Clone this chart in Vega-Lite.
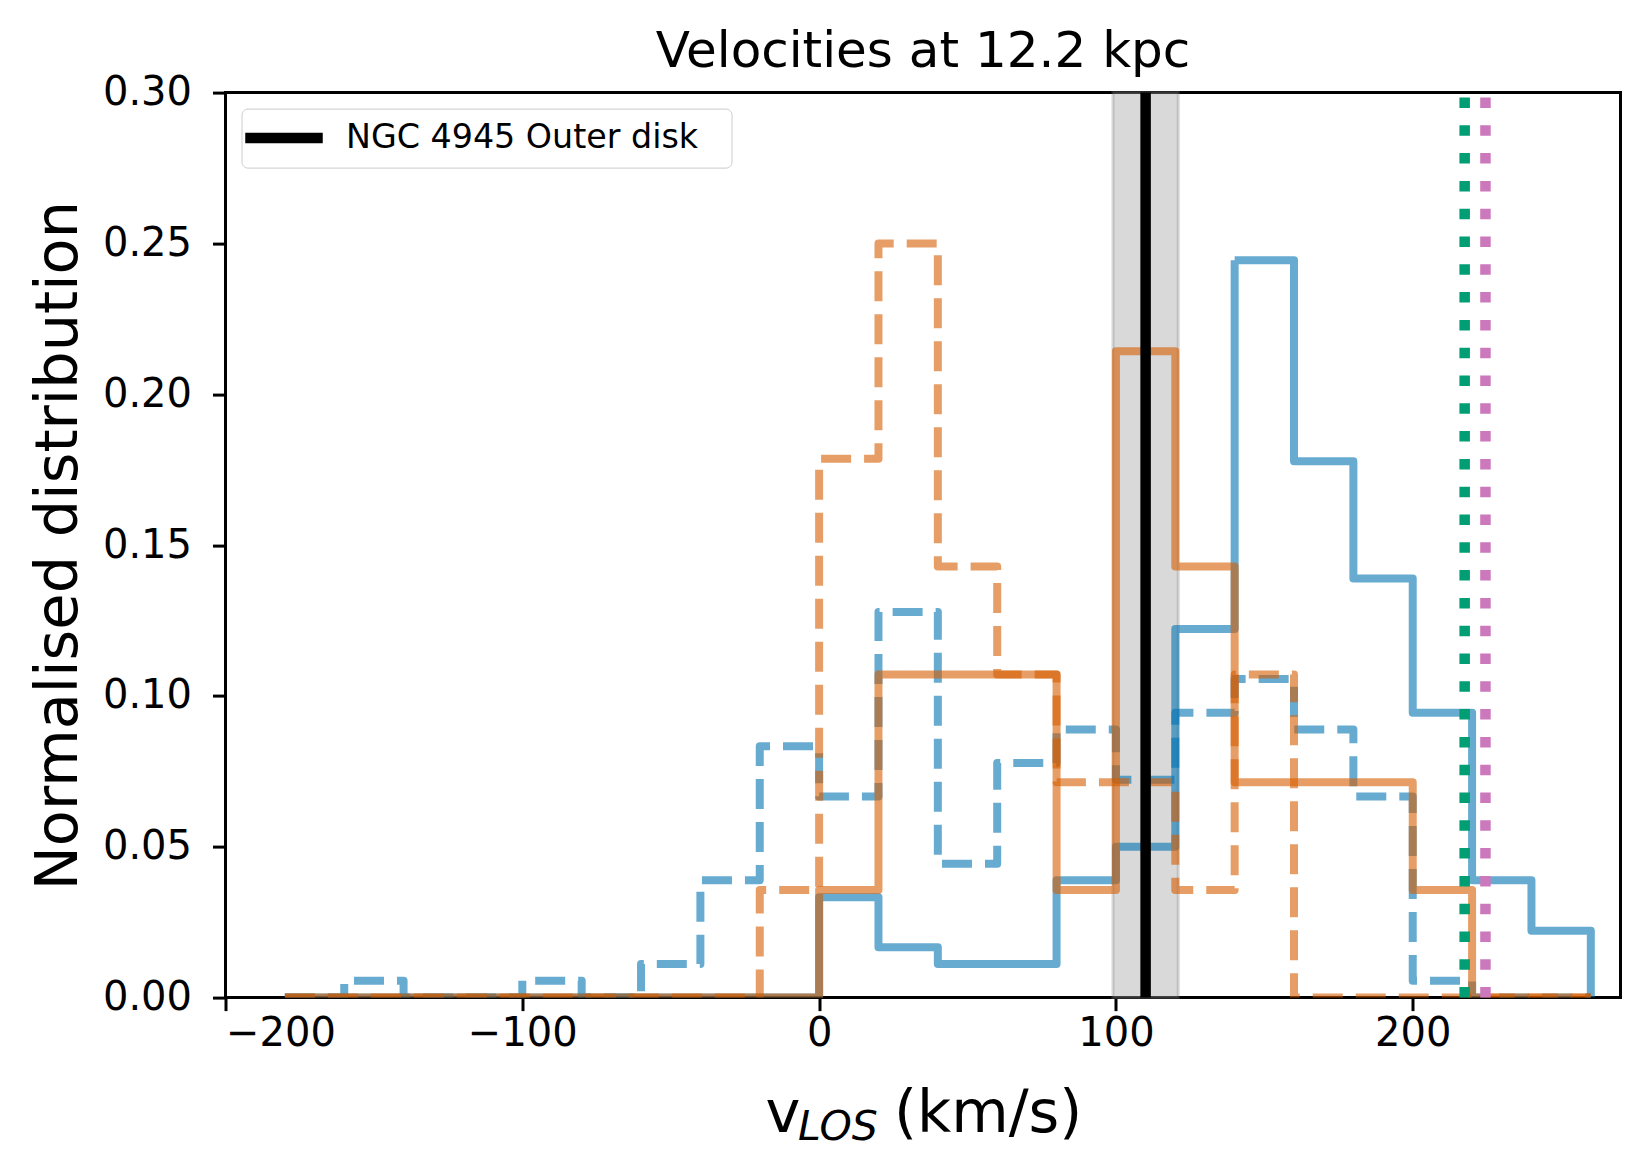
{
  "$schema": "https://vega.github.io/schema/vega-lite/v6.json",
  "width": 1395,
  "height": 905,
  "autosize": {"type": "none"},
  "padding": {"left": 225.5, "top": 92.6, "right": 29.5, "bottom": 175.4},
  "background": "white",
  "title": {"text": "Velocities at 12.2 kpc", "fontSize": 50, "font": "DejaVu Sans", "fontWeight": "normal", "color": "black", "anchor": "middle", "frame": "group", "baseline": "alphabetic", "offset": -44},
  "config": {
    "font": "DejaVu Sans",
    "view": {"stroke": "black", "strokeWidth": 3},
    "axis": {"grid": false, "domain": false, "labelFont": "DejaVu Sans", "labelFontSize": 40, "labelColor": "black", "tickColor": "black", "tickWidth": 3, "tickSize": 13, "titleFont": "DejaVu Sans", "titleFontSize": 59, "titleFontWeight": "normal", "titleColor": "black"},
    "axisX": {"labelPadding": 3},
    "axisY": {"labelPadding": 21}
  },
  "datasets": {
    "hist": [
      {"series":"A","v":-180,"p":0},{"series":"A","v":-160,"p":0},{"series":"A","v":-140,"p":0},{"series":"A","v":-120,"p":0},{"series":"A","v":-100,"p":0},{"series":"A","v":-80,"p":0},{"series":"A","v":-60,"p":0},{"series":"A","v":-40,"p":0},{"series":"A","v":-20,"p":0},{"series":"A","v":0,"p":0.0333},{"series":"A","v":20,"p":0.0167},{"series":"A","v":40,"p":0.0111},{"series":"A","v":60,"p":0.0111},{"series":"A","v":80,"p":0.0389},{"series":"A","v":100,"p":0.05},{"series":"A","v":120,"p":0.1222},{"series":"A","v":140,"p":0.2444},{"series":"A","v":160,"p":0.1778},{"series":"A","v":180,"p":0.1389},{"series":"A","v":200,"p":0.0944},{"series":"A","v":220,"p":0.0389},{"series":"A","v":240,"p":0.0222},{"series":"A","v":260,"p":0},
      {"series":"B","v":-180,"p":0},{"series":"B","v":-160,"p":0.0056},{"series":"B","v":-140,"p":0},{"series":"B","v":-120,"p":0},{"series":"B","v":-100,"p":0.0056},{"series":"B","v":-80,"p":0},{"series":"B","v":-60,"p":0.0111},{"series":"B","v":-40,"p":0.0389},{"series":"B","v":-20,"p":0.0833},{"series":"B","v":0,"p":0.0667},{"series":"B","v":20,"p":0.1278},{"series":"B","v":40,"p":0.0444},{"series":"B","v":60,"p":0.0778},{"series":"B","v":80,"p":0.0889},{"series":"B","v":100,"p":0.0722},{"series":"B","v":120,"p":0.0944},{"series":"B","v":140,"p":0.1056},{"series":"B","v":160,"p":0.0889},{"series":"B","v":180,"p":0.0667},{"series":"B","v":200,"p":0.0056},{"series":"B","v":220,"p":0},{"series":"B","v":240,"p":0},{"series":"B","v":260,"p":0},
      {"series":"C","v":-180,"p":0},{"series":"C","v":-160,"p":0},{"series":"C","v":-140,"p":0},{"series":"C","v":-120,"p":0},{"series":"C","v":-100,"p":0},{"series":"C","v":-80,"p":0},{"series":"C","v":-60,"p":0},{"series":"C","v":-40,"p":0},{"series":"C","v":-20,"p":0},{"series":"C","v":0,"p":0.0357},{"series":"C","v":20,"p":0.1071},{"series":"C","v":40,"p":0.1071},{"series":"C","v":60,"p":0.1071},{"series":"C","v":80,"p":0.0357},{"series":"C","v":100,"p":0.2143},{"series":"C","v":120,"p":0.1429},{"series":"C","v":140,"p":0.0714},{"series":"C","v":160,"p":0.0714},{"series":"C","v":180,"p":0.0714},{"series":"C","v":200,"p":0.0357},{"series":"C","v":220,"p":0},{"series":"C","v":240,"p":0},{"series":"C","v":260,"p":0},
      {"series":"D","v":-180,"p":0},{"series":"D","v":-160,"p":0},{"series":"D","v":-140,"p":0},{"series":"D","v":-120,"p":0},{"series":"D","v":-100,"p":0},{"series":"D","v":-80,"p":0},{"series":"D","v":-60,"p":0},{"series":"D","v":-40,"p":0},{"series":"D","v":-20,"p":0.0357},{"series":"D","v":0,"p":0.1786},{"series":"D","v":20,"p":0.25},{"series":"D","v":40,"p":0.1429},{"series":"D","v":60,"p":0.1071},{"series":"D","v":80,"p":0.0714},{"series":"D","v":100,"p":0.0714},{"series":"D","v":120,"p":0.0357},{"series":"D","v":140,"p":0.1071},{"series":"D","v":160,"p":0},{"series":"D","v":180,"p":0},{"series":"D","v":200,"p":0},{"series":"D","v":220,"p":0},{"series":"D","v":240,"p":0},{"series":"D","v":260,"p":0}
    ],
    "band": [{"lo": 99, "hi": 121}],
    "disk": [{"v": 110, "label": "NGC 4945 Outer disk"}],
    "green": [{"v": 217.5}],
    "pink": [{"v": 224.5}]
  },
  "layer": [
    {
      "data": {"name": "band"},
      "mark": {"type": "rect", "fill": "#808080", "fillOpacity": 0.3, "stroke": "#808080", "strokeOpacity": 0.3, "strokeWidth": 3},
      "encoding": {
        "x": {"field": "lo", "type": "quantitative", "scale": {"domain": [-200, 270], "nice": false, "zero": false},
              "axis": {"orient": "bottom", "values": [-200, -100, 0, 100, 200], "title": "v", "titleX": 539.5, "titleY": 134, "titleAlign": "left", "titleBaseline": "alphabetic"}},
        "x2": {"field": "hi"}
      }
    },
    {
      "data": {"name": "hist"},
      "mark": {"type": "line", "interpolate": "step-after", "strokeWidth": 8, "strokeOpacity": 0.6, "strokeJoin": "round", "clip": true},
      "encoding": {
        "x": {"field": "v", "type": "quantitative",
              "axis": {"orient": "bottom", "title": "LOS", "labels": false, "ticks": false, "domain": false, "titleFontStyle": "italic", "titleFontSize": 41, "titleX": 572, "titleY": 142, "titleAlign": "left", "titleBaseline": "alphabetic"}},
        "y": {"field": "p", "type": "quantitative", "scale": {"domain": [0, 0.3], "nice": false},
              "axis": {"title": "Normalised distribution", "values": [0, 0.05, 0.1, 0.15, 0.2, 0.25, 0.3], "format": ".2f", "titleX": -149.5, "titleY": 452.5, "titleAngle": 270, "titleAlign": "center", "titleBaseline": "alphabetic"}},
        "color": {"field": "series", "type": "nominal", "scale": {"domain": ["A", "B", "C", "D"], "range": ["#0173B2", "#0173B2", "#D55E00", "#D55E00"]}, "legend": null},
        "strokeDash": {"field": "series", "type": "nominal", "scale": {"domain": ["A", "B", "C", "D"], "range": [[1, 0], [30, 13], [1, 0], [30, 13]]}, "legend": null}
      }
    },
    {
      "data": {"name": "disk"},
      "mark": {"type": "rule", "strokeWidth": 10.5},
      "encoding": {
        "x": {"field": "v", "type": "quantitative",
              "axis": {"orient": "bottom", "title": "(km/s)", "labels": false, "ticks": false, "domain": false, "titleX": 668, "titleY": 134, "titleAlign": "left", "titleBaseline": "alphabetic"}},
        "y": {"datum": 0},
        "y2": {"datum": 0.3},
        "stroke": {"field": "label", "type": "nominal", "scale": {"domain": ["NGC 4945 Outer disk"], "range": ["black"]},
                   "legend": {"title": null, "orient": "top-left", "offset": 16, "padding": 8.5, "symbolType": "M-2.5,0H2.5", "symbolSize": 961, "symbolOffset": 13, "symbolStrokeWidth": 10.5, "labelFontSize": 33.3, "labelFont": "DejaVu Sans", "labelColor": "black", "labelOffset": 41, "labelLimit": 600, "labelExpr": "datum.label + '\u2800'", "strokeColor": "#cccccc", "fillColor": "white", "cornerRadius": 6}}
      }
    },
    {
      "data": {"name": "green"},
      "mark": {"type": "rule", "color": "#029E73", "strokeWidth": 10.5, "strokeDash": [10.5, 17.3], "strokeCap": "butt"},
      "encoding": {
        "x": {"field": "v", "type": "quantitative", "axis": null},
        "y": {"datum": 0},
        "y2": {"datum": 0.3}
      }
    },
    {
      "data": {"name": "pink"},
      "mark": {"type": "rule", "color": "#CC78BC", "strokeWidth": 10.5, "strokeDash": [10.5, 17.3], "strokeCap": "butt"},
      "encoding": {
        "x": {"field": "v", "type": "quantitative", "axis": null},
        "y": {"datum": 0},
        "y2": {"datum": 0.3}
      }
    }
  ],
  "resolve": {"axis": {"x": "independent"}}
}
